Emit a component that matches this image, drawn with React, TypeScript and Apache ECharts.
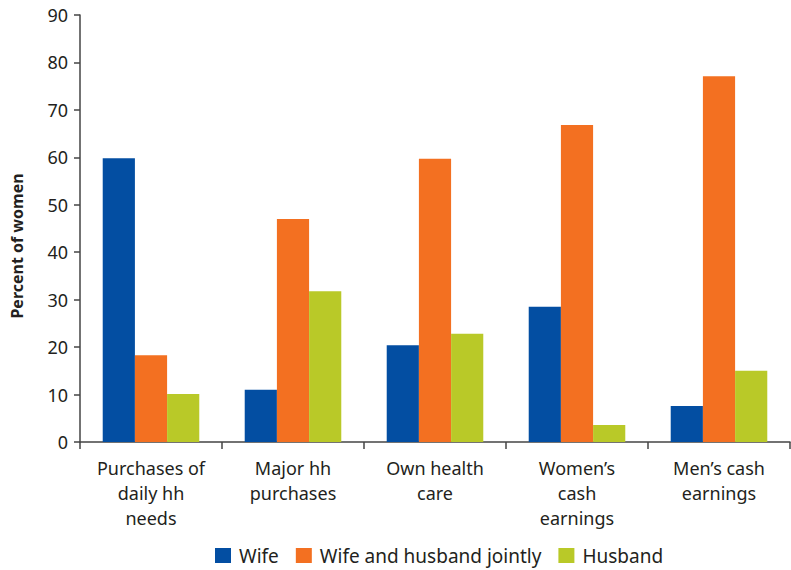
import React, { useEffect, useRef } from "react";
import * as echarts from "echarts";

const categories = [
  "Purchases of\ndaily hh\nneeds",
  "Major hh\npurchases",
  "Own health\ncare",
  "Women’s\ncash\nearnings",
  "Men’s cash\nearnings",
];
const wife = [59.8, 11.0, 20.4, 28.5, 7.6];
const jointly = [18.3, 47.0, 59.7, 66.8, 77.1];
const husband = [10.1, 31.8, 22.8, 3.6, 15.0];
const yTicks = { min: 0, max: 90, interval: 10 };

const FONT = "'Noto Sans', 'Open Sans', sans-serif";
const TXT = "#231F20";
const AX = "#444";

export default function App() {
  const ref = useRef<HTMLDivElement>(null);
  useEffect(() => {
    if (!ref.current) return;
    const chart = echarts.init(ref.current, null, { renderer: "svg" });
    chart.setOption({
      animation: false,
      textStyle: { fontFamily: FONT },
      grid: { left: 80, right: 1, top: 15, bottom: 128, containLabel: false },
      legend: {
        top: 546,
        left: 215,
        padding: 0,
        itemWidth: 16,
        itemHeight: 15,
        itemGap: 17,
        icon: "rect",
        textStyle: { fontFamily: FONT, fontSize: 19, color: TXT, padding: [0, 0, 0, 3] },
        data: ["Wife", "Wife and husband jointly", "Husband"],
      },
      graphic: [
        {
          type: "text",
          x: 17,
          y: 246,
          rotation: Math.PI / 2,
          style: {
            text: "Percent of women",
            font: `bold 16px ${FONT}`,
            fill: TXT,
            textAlign: "center",
            textVerticalAlign: "middle",
          },
        },
      ],
      xAxis: {
        type: "category",
        data: categories,
        axisLine: { lineStyle: { color: AX, width: 1.5 } },
        axisTick: { show: true, length: 7, lineStyle: { color: AX, width: 1.5 } },
        axisLabel: {
          interval: 0,
          margin: 13,
          fontSize: 18,
          lineHeight: 25,
          color: TXT,
          fontFamily: FONT,
        },
      },
      yAxis: {
        type: "value",
        min: yTicks.min,
        max: yTicks.max,
        interval: yTicks.interval,
        axisLine: { show: true, lineStyle: { color: AX, width: 1.5 } },
        axisTick: { show: true, length: 6, lineStyle: { color: AX, width: 1.5 } },
        splitLine: { show: false },
        axisLabel: { fontSize: 18, color: TXT, margin: 12, fontFamily: FONT },
      },
      series: [
        { name: "Wife", type: "bar", data: wife, itemStyle: { color: "#034EA2" }, barGap: "0%", barCategoryGap: "32%" },
        { name: "Wife and husband jointly", type: "bar", data: jointly, itemStyle: { color: "#F37021" }, barGap: "0%", barCategoryGap: "32%" },
        { name: "Husband", type: "bar", data: husband, itemStyle: { color: "#B9C928" }, barGap: "0%", barCategoryGap: "32%" },
      ],
    });
    return () => chart.dispose();
  }, []);
  return <div ref={ref} style={{ width: 791, height: 570, position: "absolute", left: 0, top: 0 }} />;
}
